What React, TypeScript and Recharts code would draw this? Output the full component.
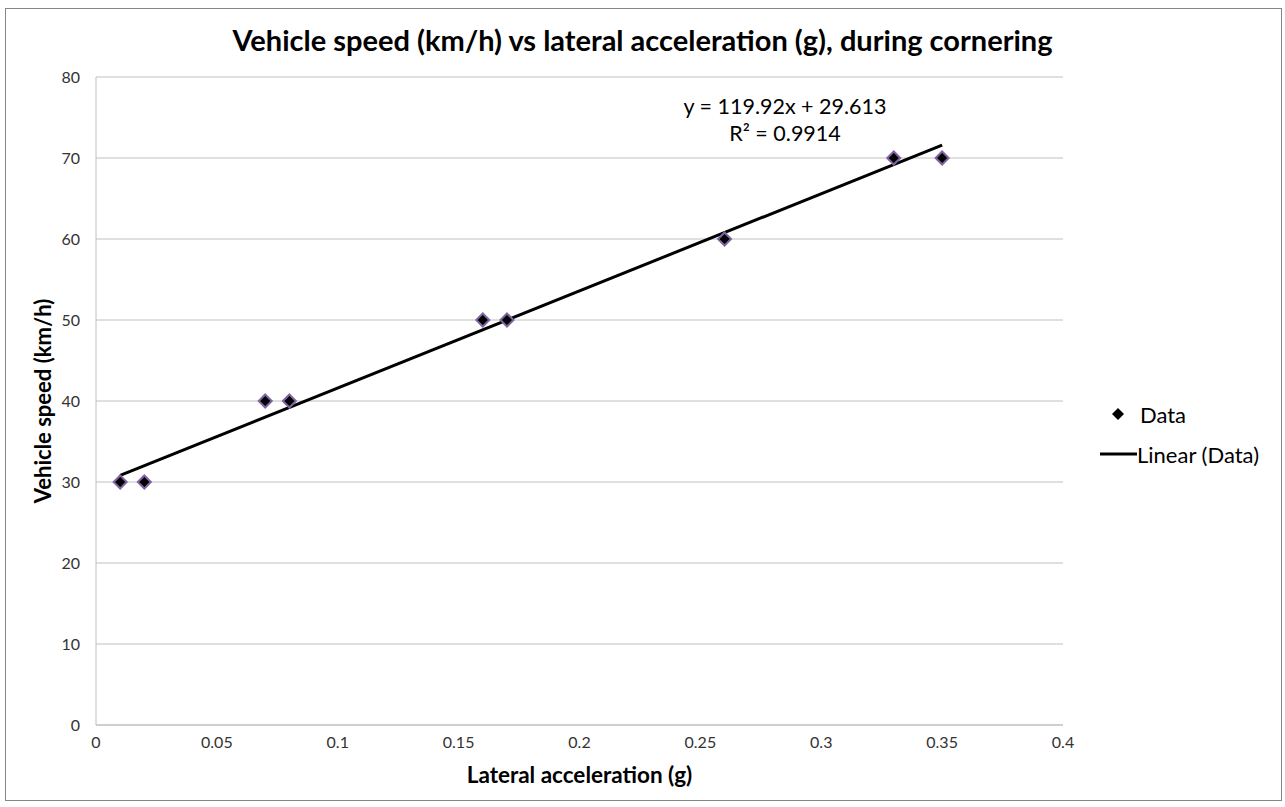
import { CartesianGrid, Scatter, ScatterChart, XAxis, YAxis } from "recharts";

const accel = [0.01, 0.02, 0.07, 0.08, 0.16, 0.17, 0.26, 0.33, 0.35];
const speed = [30, 30, 40, 40, 50, 50, 60, 70, 70];
const xTicks = [0, 0.05, 0.1, 0.15, 0.2, 0.25, 0.3, 0.35, 0.4];
const yTicks = [0, 10, 20, 30, 40, 50, 60, 70, 80];
const slope = 119.92;
const intercept = 29.613;
const trendX = [0.01, 0.35];

const points = accel.map((x, i) => ({ x, y: speed[i] }));
const trend = trendX.map((x) => ({ x, y: slope * x + intercept }));

const font = "Lato, 'Open Sans', sans-serif";

const Diamond = (props: any) => {
  const { cx, cy } = props;
  const s = 6.5;
  return (
    <polygon
      points={`${cx},${cy - s} ${cx + s},${cy} ${cx},${cy + s} ${cx - s},${cy}`}
      fill="#000"
      stroke="#8064a2"
      strokeWidth={2}
    />
  );
};

export default function App() {
  return (
    <div style={{ position: "absolute", left: 0, top: 0, width: 1285, height: 807, background: "#fff" }}>
      <div
        style={{
          position: "absolute",
          left: 5,
          top: 8,
          width: 1275,
          height: 791,
          border: "1px solid #868686",
        }}
      />
      <ScatterChart width={1285} height={807} margin={{ top: 77, right: 222, bottom: 0, left: 5 }}>
        <CartesianGrid vertical={false} stroke="#c0c0c0" />
        <XAxis
          type="number"
          dataKey="x"
          domain={[0, 0.4]}
          ticks={xTicks}
          height={82}
          tickLine={false}
          stroke="#bfbfbf"
          tick={{ fill: "#333", fontSize: 16, fontFamily: font }}
          tickMargin={6}
          label={{
            content: ({ viewBox }: any) => (
              <text
                x={viewBox.x + viewBox.width / 2}
                y={viewBox.y + 52}
                textAnchor="middle"
                dominantBaseline="middle"
                fontFamily={font}
                fontWeight={700}
                fontSize={22.5}
                fill="#000"
              >
                Lateral acceleration (g)
              </text>
            ),
          }}
        />
        <YAxis
          type="number"
          dataKey="y"
          domain={[0, 80]}
          ticks={yTicks}
          width={91}
          tickLine={false}
          stroke="#bfbfbf"
          tick={{ fill: "#333", fontSize: 16, fontFamily: font }}
          tickMargin={10}
          label={{
            content: ({ viewBox }: any) => {
              const x = viewBox.x + 40;
              const y = viewBox.y + viewBox.height / 2;
              return (
                <text
                  x={x}
                  y={y}
                  transform={`rotate(-90 ${x} ${y})`}
                  textAnchor="middle"
                  dominantBaseline="middle"
                  fontFamily={font}
                  fontWeight={700}
                  fontSize={22}
                  fill="#000"
                >
                  Vehicle speed (km/h)
                </text>
              );
            },
          }}
        />
        <Scatter
          name="Linear (Data)"
          data={trend}
          line={{ stroke: "#000", strokeWidth: 3 }}
          shape={() => null}
          isAnimationActive={false}
        />
        <Scatter name="Data" data={points} shape={Diamond} isAnimationActive={false} />
      </ScatterChart>
      <div
        style={{
          position: "absolute",
          left: 0,
          top: 22,
          width: 1285,
          textAlign: "center",
          fontFamily: font,
          fontWeight: 700,
          fontSize: 29,
          lineHeight: "36px",
          color: "#000",
        }}
      >
        Vehicle speed (km/h) vs lateral acceleration (g), during cornering
      </div>
      <div
        style={{
          position: "absolute",
          left: 655,
          top: 93,
          width: 260,
          textAlign: "center",
          fontFamily: font,
          fontSize: 21.5,
          lineHeight: "27px",
          color: "#000",
        }}
      >
        <div>y = 119.92x + 29.613</div>
        <div>R² = 0.9914</div>
      </div>
      <div style={{ position: "absolute", left: 1100, top: 399, fontFamily: font, fontSize: 22, color: "#000" }}>
        <div style={{ display: "flex", alignItems: "center", height: 30 }}>
          <svg width={40} height={16}>
            <polygon points="18,2 24,8 18,14 12,8" fill="#000" />
          </svg>
          <span>Data</span>
        </div>
        <div style={{ display: "flex", alignItems: "center", height: 30, marginTop: 10 }}>
          <svg width={37} height={16}>
            <line x1={0} y1={8} x2={37} y2={8} stroke="#000" strokeWidth={3} />
          </svg>
          <span>Linear (Data)</span>
        </div>
      </div>
    </div>
  );
}
